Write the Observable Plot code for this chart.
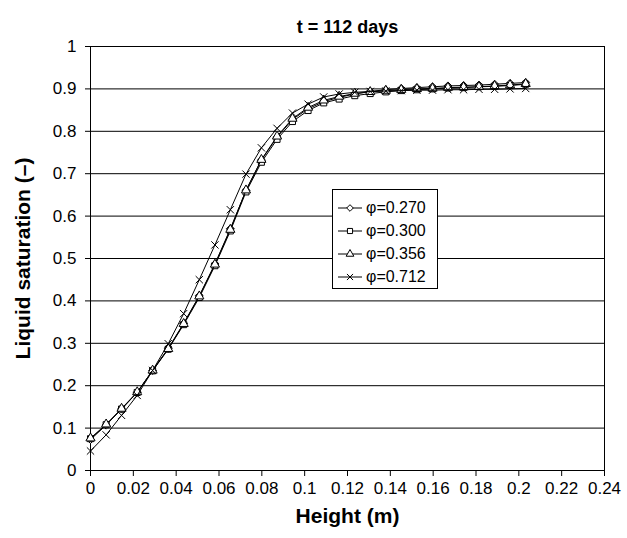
<!DOCTYPE html>
<html><head><meta charset="utf-8">
<script src="https://cdn.jsdelivr.net/npm/d3@7"></script>
<script src="https://cdn.jsdelivr.net/npm/@observablehq/plot@0.6"></script>
<style>
body{margin:0;background:#fff;font-family:"Liberation Sans",Arial,sans-serif;}
#wrap{position:relative;width:627px;height:538px;}
#legend{position:absolute;left:332px;top:189px;width:106px;height:100px;border:1px solid #000;background:#fff;box-sizing:border-box;padding-top:6px;}
.row{display:flex;align-items:center;height:23px;font-size:16px;color:#000;}
.row svg{margin-left:5px;margin-right:4px;}
</style></head><body><div id="wrap"><div id="legend"></div></div>
<script>
const heights = [0, 0.0073, 0.0145, 0.0218, 0.029, 0.0363, 0.0435, 0.0508, 0.0581, 0.0653, 0.0726, 0.0798, 0.0871, 0.0943, 0.1016, 0.1089, 0.1161, 0.1234, 0.1306, 0.1379, 0.1451, 0.1524, 0.1597, 0.1669, 0.1742, 0.1814, 0.1887, 0.1959, 0.2032];
const sat270 = [0.073, 0.107, 0.145, 0.184, 0.236, 0.288, 0.347, 0.412, 0.487, 0.570, 0.660, 0.732, 0.786, 0.828, 0.853, 0.870, 0.880, 0.888, 0.894, 0.898, 0.901, 0.903, 0.905, 0.907, 0.908, 0.909, 0.911, 0.913, 0.915];
const sat300 = [0.075, 0.108, 0.145, 0.184, 0.235, 0.286, 0.344, 0.408, 0.483, 0.565, 0.657, 0.727, 0.781, 0.823, 0.849, 0.867, 0.876, 0.884, 0.889, 0.893, 0.896, 0.898, 0.900, 0.902, 0.903, 0.905, 0.906, 0.908, 0.911];
const sat356 = [0.076, 0.109, 0.146, 0.185, 0.236, 0.287, 0.346, 0.411, 0.486, 0.568, 0.661, 0.733, 0.788, 0.830, 0.856, 0.873, 0.882, 0.889, 0.893, 0.896, 0.898, 0.900, 0.901, 0.903, 0.904, 0.905, 0.907, 0.909, 0.912];
const sat712 = [0.046, 0.084, 0.130, 0.177, 0.236, 0.299, 0.370, 0.450, 0.532, 0.615, 0.699, 0.761, 0.807, 0.843, 0.864, 0.881, 0.888, 0.892, 0.894, 0.895, 0.896, 0.897, 0.897, 0.898, 0.898, 0.899, 0.899, 0.900, 0.901];
const seriesLabels = ["φ=0.270", "φ=0.300", "φ=0.356", "φ=0.712"];
const seriesSymbols = ["diamond2", "square", "triangle", "times"];
const xTicks = [0, 0.02, 0.04, 0.06, 0.08, 0.1, 0.12, 0.14, 0.16, 0.18, 0.2, 0.22, 0.24];
const yTicks = [0, 0.1, 0.2, 0.3, 0.4, 0.5, 0.6, 0.7, 0.8, 0.9, 1];
const title = "t = 112 days";
const xLabel = "Height (m)";
const yLabel = "Liquid saturation (–)";

const allSeries = [sat270, sat300, sat356, sat712];
const marks = [
  Plot.gridY(yTicks, {stroke: "#000", strokeOpacity: 1, strokeWidth: 1}),
  Plot.frame({stroke: "#000", strokeWidth: 1}),
  Plot.axisX(xTicks, {tickSize: 6, tickPadding: 5, fontSize: 17, tickFormat: d3.format("~g"), label: null}),
  Plot.axisY(yTicks, {tickSize: 5, tickPadding: 9, fontSize: 17, tickFormat: d3.format("~g"), label: null}),
];
allSeries.forEach((vals, k) => {
  const rows = heights.map((h, i) => ({h, v: vals[i]}));
  marks.push(Plot.line(rows, {x: "h", y: "v", stroke: "#000", strokeWidth: 1}));
  marks.push(Plot.dot(rows, {x: "h", y: "v", symbol: seriesSymbols[k], r: k === 0 ? 3.6 : 3.4, fill: "white", stroke: "#000", strokeWidth: 1}));
});
marks.push(Plot.text([title], {frameAnchor: "top", dy: -26, fontSize: 18, fontWeight: "bold", text: d => d}));
marks.push(Plot.text([xLabel], {frameAnchor: "bottom", dy: 52, fontSize: 21, fontWeight: "bold", text: d => d}));
marks.push(Plot.text([yLabel], {frameAnchor: "left", textAnchor: "middle", dx: -67, rotate: -90, fontSize: 21, fontWeight: "bold", text: d => d}));

const chart = Plot.plot({
  width: 627, height: 538,
  marginLeft: 90, marginRight: 23, marginTop: 46, marginBottom: 68,
  x: {domain: [0, 0.24]},
  y: {domain: [0, 1]},
  style: {fontFamily: "'Liberation Sans', Arial, sans-serif", color: "#000", background: "#fff", overflow: "visible"},
  marks
});
document.getElementById("wrap").prepend(chart);

// legend
const leg = document.getElementById("legend");
const symMap = {diamond2: d3.symbolDiamond2, square: d3.symbolSquare, triangle: d3.symbolTriangle, times: d3.symbolTimes};
seriesLabels.forEach((lab, k) => {
  const row = document.createElement("div");
  row.className = "row";
  const svg = d3.create("svg").attr("width", 24).attr("height", 14);
  svg.append("line").attr("x1", 0).attr("x2", 24).attr("y1", 7).attr("y2", 7).attr("stroke", "#000");
  svg.append("path").attr("transform", "translate(12,7)")
    .attr("d", d3.symbol(symMap[seriesSymbols[k]], k === 0 ? 28 : 26)())
    .attr("fill", "white").attr("stroke", "#000");
  row.appendChild(svg.node());
  const t = document.createElement("span");
  t.textContent = lab;
  row.appendChild(t);
  leg.appendChild(row);
});
</script>
</body></html>
